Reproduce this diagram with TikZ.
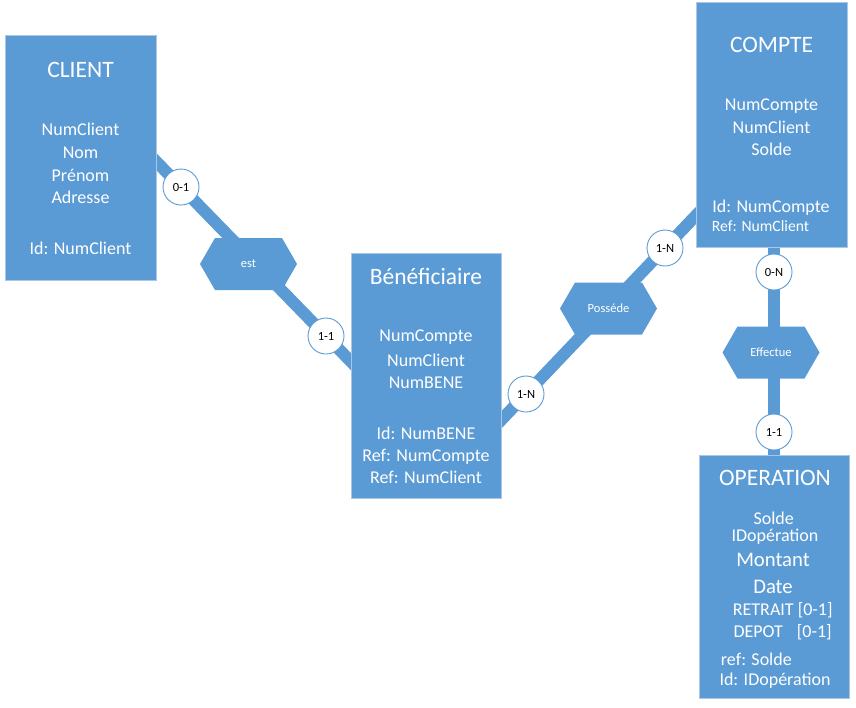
\documentclass[tikz,border=0pt]{standalone}
\usepackage{fontspec}
\setmainfont{Carlito}
\usetikzlibrary{calc}
\pgfdeclarelayer{background}
\pgfsetlayers{background,main}
\definecolor{erblue}{RGB}{91,155,213}
\definecolor{erline}{RGB}{172,198,228}
\begin{document}
\begin{tikzpicture}[x=1pt,y=-1pt,
 entity/.style={rectangle, fill=erblue, draw=erline, line width=0.8pt, inner sep=0pt},
 ttl/.style={anchor=base, text=white, inner sep=0pt, font=\fontsize{23.5}{26}\selectfont},
 attr/.style={anchor=base, text=white, inner sep=0pt, font=\fontsize{18}{20}\selectfont},
 attrw/.style={attr, anchor=base west},
 big/.style={anchor=base, text=white, inner sep=0pt, font=\fontsize{20.7}{23}\selectfont},
 small/.style={anchor=base west, text=white, inner sep=0pt, font=\fontsize{15.7}{18}\selectfont},
 hexa/.style={rectangle, minimum width=97pt, minimum height=52pt, inner sep=0pt, text=white,
   font=\fontsize{12.5}{14}\selectfont,
   path picture={\fill[erblue] (path picture bounding box.west)
     -- ([xshift=15pt]path picture bounding box.north west)
     -- ([xshift=-15pt]path picture bounding box.north east)
     -- (path picture bounding box.east)
     -- ([xshift=-15pt]path picture bounding box.south east)
     -- ([xshift=15pt]path picture bounding box.south west) -- cycle;}},
 card/.style={circle, fill=white, draw=erblue, line width=0.9pt, minimum size=36pt, inner sep=0pt,
   text=black, font=\fontsize{12.5}{14}\selectfont},
 band/.style={draw=erblue, line width=12pt}
]
\useasboundingbox (0,0) rectangle (856,707);

% entities
\node[entity, minimum width=151pt, minimum height=245pt] (client) at (80.5,157.5) {};
\node[entity, minimum width=150pt, minimum height=245pt] (bene) at (426,375.5) {};
\node[entity, minimum width=151pt, minimum height=245pt] (compte) at (771.5,124.5) {};
\node[entity, minimum width=150pt, minimum height=243pt] (operation) at (774,576.5) {};

% CLIENT texts
\node[ttl] (c0) at (80.5,77) {CLIENT};
\node[attr] (c1) at (80.5,135) {NumClient};
\node[attr] (c2) at (80.5,158.3) {Nom};
\node[attr] (c3) at (80.5,181.7) {Prénom};
\node[attr] (c4) at (80.5,203.5) {Adresse};
\node[attr] (c5) at (80.5,254) {Id: NumClient};

% Beneficiaire texts
\node[ttl] (b0) at (426,284) {Bénéficiaire};
\node[attr] (b1) at (426,341.7) {NumCompte};
\node[attr] (b2) at (426,366) {NumClient};
\node[attr] (b3) at (426,388) {NumBENE};
\node[attr] (b4) at (426,439.3) {Id: NumBENE};
\node[attr] (b5) at (426,461.7) {Ref: NumCompte};
\node[attr] (b6) at (426,483.3) {Ref: NumClient};

% COMPTE texts
\node[ttl] (p0) at (771.5,52.7) {COMPTE};
\node[attr] (p1) at (771.5,110) {NumCompte};
\node[attr] (p2) at (771.5,133.3) {NumClient};
\node[attr] (p3) at (771.5,155.7) {Solde};
\node[attr] (p4) at (771,212.3) {Id: NumCompte};
\node[small] (p5) at (711.7,231.7) {Ref: NumClient};

% OPERATION texts
\node[ttl] (o0) at (775,485) {OPERATION};
\node[attr] (o1) at (773.7,524) {Solde};
\node[attr] (o2) at (775,541.7) {IDopération};
\node[big] (o3) at (773,566.7) {Montant};
\node[big] (o4) at (773,593.3) {Date};
\node[attrw] (o5) at (732.7,615) {RETRAIT [0-1]};
\node[attrw] (o6) at (733.3,637.3) {DEPOT};
\node[attrw] (o7) at (796.7,637.3) {[0-1]};
\node[attrw] (o8) at (720.7,665) {ref: Solde};
\node[attrw] (o9) at (719.3,685) {Id: IDopération};

% relations
\node[hexa] (est) at (248.5,264) {est};
\node[hexa] (poss) at (608.5,308.5) {Posséde};
\node[hexa] (eff) at (771,352.5) {Effectue};

% cardinalities
\node[card] (k1) at (181,187) {0-1};
\node[card] (k2) at (326,336) {1-1};
\node[card] (k3) at (526,394) {1-N};
\node[card] (k4) at (665,248) {1-N};
\node[card] (k5) at (774,272) {0-N};
\node[card] (k6) at (774,432) {1-1};

\begin{pgfonlayer}{background}
\fill[white] (0,0) rectangle (856,707);
\draw[band] ($(k1)!-55pt!(k2)$) -- ($(k2)!-55pt!(k1)$);
\draw[band] ($(k3)!-55pt!(k4)$) -- ($(k4)!-55pt!(k3)$);
\draw[band] (compte.south -| k5) -- (operation.north -| k5);
\end{pgfonlayer}
\end{tikzpicture}
\end{document}
